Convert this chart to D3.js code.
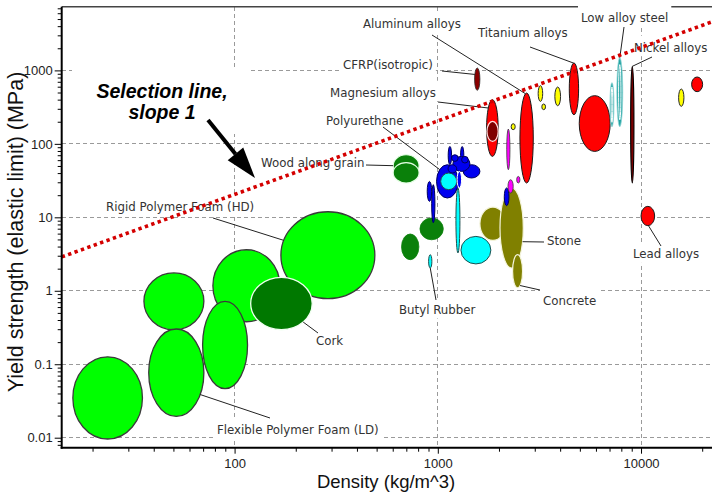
<!DOCTYPE html>
<html>
<head>
<meta charset="utf-8">
<script src="https://cdn.jsdelivr.net/npm/d3@7"></script>
<style>
  html, body { margin: 0; padding: 0; background: #fff; }
  svg { display: block; }
</style>
</head>
<body>
<svg id="chart" width="712" height="495"></svg>
<script>
// ---- Material property ranges: density (kg/m^3) and yield strength (MPa) ----
const materials = [
  "Flexible foam (VLD)", "Rigid foam (LD)", "Flexible foam (LD)", "Rigid foam (MD)",
  "Flexible foam (MD)", "Rigid foam (HD)", "Cork",
  "Softwood, along grain", "Hardwood, along grain", "Wood, transverse", "Plywood",
  "Brick", "Stone", "Concrete",
  "Neoprene", "Silicone elastomer", "Butyl rubber",
  "PE", "PP", "Polyurethane", "PU elastomer", "PET", "PMMA", "PC", "Nylon", "ABS",
  "PS", "Epoxy", "Phenolic", "PTFE",
  "Borosilicate glass", "Silica glass", "Soda-lime glass",
  "Boron carbide", "Silicon carbide", "Silicon nitride", "Alumina", "Tungsten carbide",
  "Magnesium alloys", "GFRP", "CFRP(isotropic)", "Aluminum alloys", "Titanium alloys",
  "Zinc alloys", "Lead alloys", "Tungsten alloys",
  "Stainless steel", "Low alloy steel", "Nickel alloys"
];
const family = [
  "foam", "foam", "foam", "foam", "foam", "foam", "cork",
  "woodGrain", "woodGrain", "wood", "wood",
  "stone", "stone", "stone",
  "elastomer", "elastomer", "elastomer",
  "polymer", "polymer", "polymer", "elastomer", "polymer", "polymer", "polymer", "polymer", "polymer",
  "polymer", "polymerLight", "polymer", "polymer",
  "glass", "glass", "glass",
  "ceramic", "ceramic", "ceramic", "ceramic", "ceramic",
  "metal", "compositeLight", "composite", "metal", "metal",
  "metal", "metal", "metal",
  "steel", "steel", "nickel"
];
const densityLow = [
  16, 35.8, 37.8, 78.2, 69.6, 169, 120,
  603, 603, 663, 817,
  1611, 2023, 2333,
  1300, 1228, 901,
  887, 933, 986, 1033, 1334, 1125, 1294, 1186, 1169,
  1309, 1245, 1123, 2124,
  2183, 2215, 2444,
  2296, 3118, 3250, 3767, 15310,
  1738, 1745, 1517, 2536, 4436,
  4966, 10000, 17740,
  7031, 7603, 8890
];
const densityHigh = [
  35.2, 70.6, 70.6, 167, 115.8, 490, 241,
  809, 809, 807, 1064,
  2162, 2634, 2613,
  1824, 1285, 935,
  933, 968, 1259, 1239, 1611, 1169, 1343, 1439, 1259,
  1412, 1309, 1239, 2240,
  2265, 2350, 2536,
  2404, 3282, 3389, 4018, 16260,
  1982, 1982, 1611, 2950, 4930,
  7050, 11670, 20100,
  7362, 8128, 9230
];
const strengthLow = [
  0.0096, 0.295, 0.0195, 0.379, 0.0465, 0.78, 0.295,
  35.8, 29.3, 2.65, 4.95,
  4.85, 2.04, 1.10,
  2.32, 3.27, 2.04,
  16.5, 8.45, 18.3, 23.8, 34.3, 52, 52, 42.2, 57.7,
  54.8, 25.1, 40.1, 14.4,
  44.5, 21.4, 29.3,
  156, 378, 292, 330, 324,
  67.5, 108, 535, 29.3, 249,
  78.9, 7.7, 513,
  171, 171, 29.3
];
const strengthHigh = [
  0.126, 1.75, 0.302, 3.62, 0.716, 11.9, 1.52,
  71.1, 55.5, 5.93, 9.8,
  13.8, 25.1, 3.10,
  5.5, 25.1, 3.10,
  30.8, 27.8, 52, 40.1, 52, 92.3, 92, 67.5, 71.1,
  67.5, 42.2, 52, 25.1,
  159, 32.5, 36,
  188, 620, 349, 594, 558,
  399, 202, 1079, 492, 1262,
  453, 14.1, 813,
  681, 1489, 1135
];

// Axis ticks
const xTickValues = [100, 1000, 10000];
const xTickLabels = ["100", "1000", "10000"];
const yTickValues = [0.01, 0.1, 1, 10, 100, 1000];
const yTickLabels = ["0.01", "0.1", "1", "10", "100", "1000"];
const densityDomain = [14.1, 22350];
const strengthDomain = [0.00731, 7362];

// Selection guideline: strength = k * density (slope 1 on log-log axes)
const selectionK = 0.205;

// ---- Styles ----
const familyStyle = {
  foam:           { fill: "#00ff00", stroke: "#3a3a3a", width: 1.3 },
  cork:           { fill: "#007800", stroke: "#f0fff0", width: 1.3 },
  woodGrain:      { fill: "#0a800a", stroke: "#e6ffe6", width: 1.2 },
  wood:           { fill: "#0a800a", stroke: "#0a800a", width: 0.8 },
  stone:          { fill: "#808000", stroke: "#f4f4dc", width: 1.2 },
  elastomer:      { fill: "#00ffff", stroke: "#1f4f4f", width: 1 },
  polymer:        { fill: "#0000f0", stroke: "#00005a", width: 1 },
  polymerLight:   { fill: "#0000f0", stroke: "#ffffff", width: 1 },
  glass:          { fill: "#ff00ff", stroke: "#3a3a3a", width: 0.8 },
  ceramic:        { fill: "#ffff00", stroke: "#2a2a2a", width: 1 },
  metal:          { fill: "#ff0000", stroke: "#1a1a1a", width: 1 },
  composite:      { fill: "#8b0000", stroke: "#2a2a2a", width: 0.8 },
  compositeLight: { fill: "#800000", stroke: "#ffe0e0", width: 1.2 },
  steel:          { fill: "#22a3a3", stroke: "#8fd6d6", width: 0.8 },
  nickel:         { fill: "#7a0000", stroke: "#000000", width: 1.1 }
};

// Callout labels: text position (start, baseline), leader start, and the
// angle on the material ellipse where the leader ends.
const callouts = [
  { material: "Aluminum alloys", text: "Aluminum alloys", at: [363, 27.5], from: [432, 35], angle: 100 },
  { material: "Titanium alloys", text: "Titanium alloys", at: [478, 36.7], from: [530, 47], angle: 95 },
  { material: "Low alloy steel", text: "Low alloy steel", at: [581, 21.7], from: [624, 27], angle: 90 },
  { material: "Nickel alloys", text: "Nickel alloys", at: [634, 51.7], from: [652, 57], angle: 90 },
  { material: "CFRP(isotropic)", text: "CFRP(isotropic)", at: [343, 69.4], from: [442, 71], angle: 155 },
  { material: "Magnesium alloys", text: "Magnesium alloys", at: [330, 96.7], from: [438, 102], angle: 135 },
  { material: "Polyurethane", text: "Polyurethane", at: [326, 125], from: [383, 127], angle: 135 },
  { material: "Softwood, along grain", text: "Wood along grain", at: [261, 167], from: [366, 165], angle: 180 },
  { material: "Rigid foam (HD)", text: "Rigid Polymer Foam (HD)", at: [106, 211], from: [213, 218], angle: 160 },
  { material: "Cork", text: "Cork", at: [316, 345], from: [318, 333], angle: -45 },
  { material: "Flexible foam (LD)", text: "Flexible Polymer Foam (LD)", at: [217, 434], from: [270, 418], angle: -30 },
  { material: "Butyl rubber", text: "Butyl Rubber", at: [399, 314], from: [436, 300], angle: -90 },
  { material: "Concrete", text: "Concrete", at: [543, 305], from: [540, 290], angle: -60 },
  { material: "Stone", text: "Stone", at: [547, 245], from: [544, 242], angle: -20 },
  { material: "Lead alloys", text: "Lead alloys", at: [633, 258.4], from: [661, 246], angle: -85 }
];

// ---- Layout ----
const plot = { left: 61.7, right: 712, top: 6.7, bottom: 447.7 };
const svg = d3.select("#chart");
const x = d3.scaleLog().domain(densityDomain).range([plot.left, plot.right]);
const y = d3.scaleLog().domain(strengthDomain).range([plot.bottom, plot.top]);

const labelFont = "'DejaVu Sans', Verdana, sans-serif";
const axisFont = "'Liberation Sans', Arial, sans-serif";

// Grid
const grid = svg.append("g").attr("stroke", "#9a9a9a").attr("stroke-width", 1)
  .attr("stroke-dasharray", "4,3").attr("shape-rendering", "crispEdges");
grid.selectAll("line.h").data(yTickValues).join("line").attr("class", "h")
  .attr("x1", plot.left).attr("x2", plot.right)
  .attr("y1", d => y(d)).attr("y2", d => y(d));
grid.selectAll("line.v").data(xTickValues).join("line").attr("class", "v")
  .attr("y1", plot.top).attr("y2", plot.bottom)
  .attr("x1", d => x(d)).attr("x2", d => x(d));

// Frame top edge
svg.append("line").attr("x1", plot.left).attr("x2", plot.right)
  .attr("y1", plot.top).attr("y2", plot.top)
  .attr("stroke", "#444").attr("stroke-width", 1.5);

// Material bubbles
const items = materials.map((name, i) => {
  const x0 = x(densityLow[i]), x1 = x(densityHigh[i]);
  const y0 = y(strengthHigh[i]), y1 = y(strengthLow[i]);
  return { name, family: family[i], cx: (x0 + x1) / 2, cy: (y0 + y1) / 2,
           rx: (x1 - x0) / 2, ry: (y1 - y0) / 2 };
});

const bubbles = svg.append("g");
bubbles.selectAll("ellipse").data(items).join("ellipse")
  .attr("cx", d => d.cx).attr("cy", d => d.cy)
  .attr("rx", d => d.rx).attr("ry", d => d.ry)
  .attr("fill", d => familyStyle[d.family].fill)
  .attr("stroke", d => familyStyle[d.family].stroke)
  .attr("stroke-width", d => familyStyle[d.family].width);

// Highlights inside the steel envelopes
bubbles.selectAll("ellipse.hl").data(items.filter(d => d.family === "steel")).join("ellipse")
  .attr("class", "hl")
  .attr("cx", d => d.cx).attr("cy", d => d.cy)
  .attr("rx", d => d.rx * 0.4).attr("ry", d => d.ry * 0.8)
  .attr("fill", "none").attr("stroke", "#ffffff").attr("stroke-width", 1);

// Callouts
const byName = new Map(items.map(d => [d.name, d]));
function anchorPoint(c) {
  const e = byName.get(c.material);
  const t = c.angle * Math.PI / 180;
  return [e.cx + e.rx * Math.cos(t), e.cy - e.ry * Math.sin(t)];
}

const labels = svg.append("g");
const texts = labels.selectAll("text").data(callouts).join("text")
  .attr("x", d => d.at[0]).attr("y", d => d.at[1])
  .attr("font-family", labelFont).attr("font-size", 11.8)
  .attr("fill", "#333")
  .text(d => d.text);

// White boxes behind the label text
texts.each(function (d) {
  const w = this.getComputedTextLength();
  labels.insert("rect", "text")
    .attr("x", d.at[0] - 3).attr("y", d.at[1] - 16)
    .attr("width", w + 6).attr("height", 20.5)
    .attr("fill", "#fff");
});

labels.selectAll("line").data(callouts).join("line")
  .attr("x1", d => d.from[0]).attr("y1", d => d.from[1])
  .attr("x2", d => anchorPoint(d)[0]).attr("y2", d => anchorPoint(d)[1])
  .attr("stroke", "#222").attr("stroke-width", 1);
labels.selectAll("text").raise();

// Selection line
const selDensity = x.domain();
svg.append("line")
  .attr("x1", x(selDensity[0])).attr("y1", y(selectionK * selDensity[0]))
  .attr("x2", x(selDensity[1])).attr("y2", y(selectionK * selDensity[1]))
  .attr("stroke", "#d40000").attr("stroke-width", 3.6)
  .attr("stroke-dasharray", "3.4,3.4");

// Annotation
svg.append("rect").attr("x", 72).attr("y", 70).attr("width", 178).attr("height", 64)
  .attr("fill", "#fff");
const note = svg.append("text")
  .attr("font-family", axisFont).attr("font-size", 19.5)
  .attr("font-weight", "bold").attr("font-style", "italic")
  .attr("fill", "#000").attr("text-anchor", "middle");
note.append("tspan").attr("x", 162).attr("y", 97.5).text("Selection line,");
note.append("tspan").attr("x", 162).attr("y", 119).text("slope 1");

// Arrow
(function () {
  const s = [208, 120], t = [255, 178];
  const dx = t[0] - s[0], dy = t[1] - s[1];
  const len = Math.hypot(dx, dy), ux = dx / len, uy = dy / len;
  const L = 31, Wd = 10;
  const bx = t[0] - L * ux, by = t[1] - L * uy;
  svg.append("line").attr("x1", s[0]).attr("y1", s[1]).attr("x2", bx).attr("y2", by)
    .attr("stroke", "#000").attr("stroke-width", 4);
  svg.append("path")
    .attr("d", `M${t[0]},${t[1]}L${bx - Wd * uy},${by + Wd * ux}L${bx + Wd * uy},${by - Wd * ux}Z`)
    .attr("fill", "#000");
})();

// Axes
const isDecade = v => Math.abs(Math.log10(v) - Math.round(Math.log10(v))) < 1e-6;
const minorY = y.ticks().filter(v => !isDecade(v));
const minorX = x.ticks().filter(v => !isDecade(v));

function styleAxis(g) {
  g.select(".domain").remove();
  g.selectAll("line").attr("stroke", "#000");
  g.selectAll("text").attr("font-family", axisFont).attr("font-size", 13).attr("fill", "#222");
}

svg.append("g").attr("transform", `translate(${plot.left},0)`)
  .call(d3.axisLeft(y).tickValues(minorY).tickSize(4).tickFormat(""))
  .call(styleAxis);
svg.append("g").attr("transform", `translate(${plot.left},0)`)
  .call(d3.axisLeft(y).tickValues(yTickValues).tickSize(7).tickPadding(2)
    .tickFormat((d, i) => yTickLabels[i]))
  .call(styleAxis);
svg.append("g").attr("transform", `translate(0,${plot.bottom})`)
  .call(d3.axisBottom(x).tickValues(minorX).tickSize(4).tickFormat(""))
  .call(styleAxis);
svg.append("g").attr("transform", `translate(0,${plot.bottom})`)
  .call(d3.axisBottom(x).tickValues(xTickValues).tickSize(6).tickPadding(5)
    .tickFormat((d, i) => xTickLabels[i]))
  .call(styleAxis);

svg.append("line").attr("x1", plot.left).attr("x2", plot.left)
  .attr("y1", plot.top).attr("y2", plot.bottom + 1)
  .attr("stroke", "#000").attr("stroke-width", 2);
svg.append("line").attr("x1", plot.left - 1).attr("x2", plot.right)
  .attr("y1", plot.bottom).attr("y2", plot.bottom)
  .attr("stroke", "#000").attr("stroke-width", 2);

// Axis titles
svg.append("text").attr("x", 386).attr("y", 488)
  .attr("text-anchor", "middle").attr("font-family", axisFont)
  .attr("font-size", 18.5).attr("fill", "#111")
  .text("Density (kg/m^3)");
svg.append("text").attr("transform", "translate(23,232) rotate(-90)")
  .attr("text-anchor", "middle").attr("font-family", axisFont)
  .attr("font-size", 21.5).attr("fill", "#111")
  .text("Yield strength (elastic limit) (MPa)");
</script>
</body>
</html>
